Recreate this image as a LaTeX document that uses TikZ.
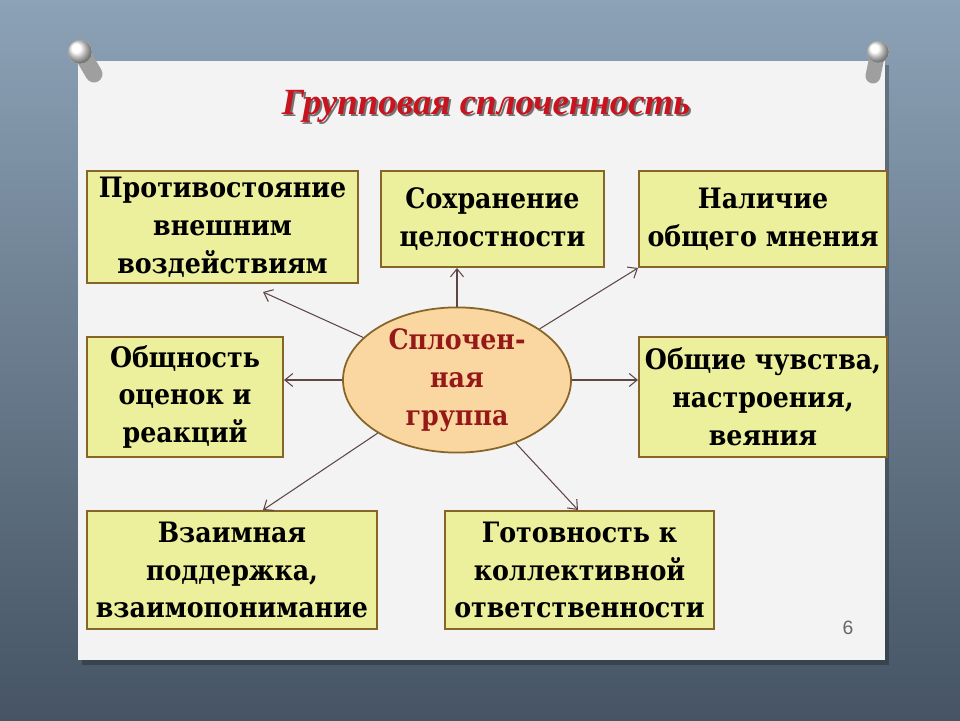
\documentclass[tikz,border=0pt]{standalone}
\usepackage{fontspec}
\setmainfont{Liberation Serif}
\newfontfamily\boxfont{DejaVu Serif Condensed}
\newfontfamily\numfont{Liberation Sans}
\usetikzlibrary{arrows.meta,positioning,calc,shapes.geometric}

\definecolor{boardtop}{RGB}{140,162,182}
\definecolor{boardbot}{RGB}{70,84,100}
\definecolor{paper}{RGB}{243,243,243}
\definecolor{boxfill}{RGB}{236,239,155}
\definecolor{boxline}{RGB}{135,100,40}
\definecolor{ovalfill}{RGB}{250,214,160}
\definecolor{ovaltext}{RGB}{150,25,25}
\definecolor{titlered}{RGB}{200,20,30}
\definecolor{arrowcol}{RGB}{95,70,70}

\tikzset{
    item/.style={draw=boxline,line width=1.2pt,fill=boxfill,align=center,inner sep=0pt,
        font=\boxfont\bfseries\fontsize{16}{21.5}\selectfont},
    core/.style={ellipse,draw=boxline,line width=1pt,fill=ovalfill,align=center,inner sep=0pt,
        text=ovaltext,font=\boxfont\bfseries\fontsize{16}{21.5}\selectfont},
    link/.style={-{Straight Barb[length=1.6mm,width=2.6mm]},draw=arrowcol,line width=0.6pt},
    pin/.style={ball color=white,draw=gray!70,line width=0.3pt}
}

\begin{document}
\begin{tikzpicture}
        \useasboundingbox (0,0) rectangle (19.2,14.4);

        %%%% Board and sheet ============================
        \shade[top color=boardtop,bottom color=boardbot] (0,0) rectangle (19.2,14.4);
        \fill[black,opacity=0.25] (1.64,1.1) rectangle (17.78,13.1);
        \fill[paper] (1.56,1.2) rectangle (17.7,13.18);

        % Pins
        \draw[line width=0.34cm,line cap=round,gray!75] (1.62,13.36) -- (1.88,12.92);
        \draw[pin] (1.6,13.36) circle (0.24);
        \draw[line width=0.3cm,line cap=round,gray!75] (17.56,13.36) -- (17.46,12.88);
        \draw[pin] (17.56,13.36) circle (0.22);

        %%%% Title ======================================
        \node[text=black!55,font=\bfseries\itshape\fontsize{21}{25}\selectfont] at (9.76,12.24) {Групповая сплоченность};
        \node[text=titlered,font=\bfseries\itshape\fontsize{21}{25}\selectfont] (title) at (9.72,12.28) {Групповая сплоченность};

        %%%% Boxes ======================================
        \node[item,minimum width=5.42cm,minimum height=2.24cm] (resist) at (4.45,9.86) {Противостояние\\внешним\\воздействиям};
        \node[item,minimum width=4.46cm,minimum height=1.92cm] (whole) at (9.85,10.02) {Сохранение\\целостности};
        \node[item,minimum width=4.96cm,minimum height=1.92cm] (opinion) at (15.26,10.02) {Наличие\\общего мнения};
        \node[item,minimum width=3.92cm,minimum height=2.4cm] (rating) at (3.70,6.46) {Общность\\оценок и\\реакций};
        \node[item,minimum width=4.96cm,minimum height=2.4cm] (feeling) at (15.26,6.46) {Общие чувства,\\настроения,\\веяния};
        \node[item,minimum width=5.8cm,minimum height=2.36cm] (support) at (4.64,3.0) {Взаимная\\поддержка,\\взаимопонимание};
        \node[item,minimum width=5.38cm,minimum height=2.36cm] (duty) at (11.59,3.0) {Готовность к\\коллективной\\ответственности};

        % Centre
        \node[core,minimum width=4.56cm,minimum height=2.52cm] (group) at (9.14,6.8) {Сплочен-\\ная\\группа};

        % Arrow ends
        \coordinate (resistend) at (5.26,8.56);
        \coordinate (wholeend) at (9.14,9.04);
        \coordinate (opinionend) at (12.76,9.04);
        \coordinate (ratingend) at (5.68,6.8);
        \coordinate (feelingend) at (12.76,6.8);
        \coordinate (supportend) at (5.26,4.2);
        \coordinate (dutyend) at (11.56,4.2);

        % Arcs
        \draw[link] (group) -- (resistend);
        \draw[link] (group) -- (wholeend);
        \draw[link] (group) -- (opinionend);
        \draw[link] (group) -- (ratingend);
        \draw[link] (group) -- (feelingend);
        \draw[link] (group) -- (supportend);
        \draw[link] (group) -- (dutyend);

        % Page number
        \node[text=gray!80!black,font=\numfont\fontsize{11}{13}\selectfont] (page) at (16.96,1.84) {6};
    \end{tikzpicture}
\end{document}
